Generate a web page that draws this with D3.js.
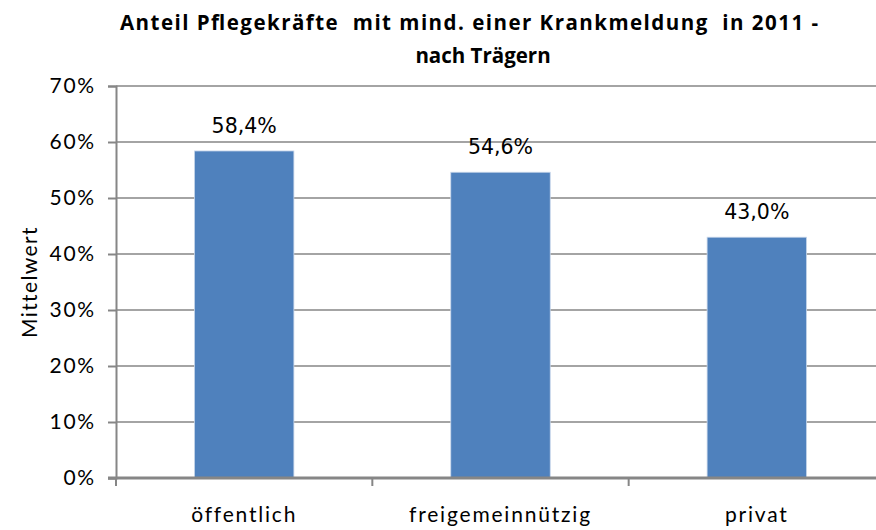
<!DOCTYPE html>
<html><head><meta charset="utf-8">
<script src="https://cdn.jsdelivr.net/npm/d3@7"></script>
<style>body{margin:0;background:#fff}svg{display:block}</style>
</head><body>
<svg id="c" width="876" height="530"></svg>
<script>
const categories = ["öffentlich", "freigemeinnützig", "privat"];
const values = [58.4, 54.6, 43.0];
const valueLabels = ["58,4%", "54,6%", "43,0%"];
const yTicks = [0, 10, 20, 30, 40, 50, 60, 70];
const titleLines = ["Anteil Pflegekräfte  mit mind. einer Krankmeldung  in 2011 -", "nach Trägern"];
const yAxisTitle = "Mittelwert";

(function () {
const svg = d3.select("#c");
const pLeft = 116, pRight = 885, pTop = 86, pBottom = 478;
const font = "Lato, 'Open Sans', sans-serif";

const x = d3.scaleBand().domain(categories).range([pLeft, pRight]).paddingInner(0.612).paddingOuter(0.306);
const xb = d3.scaleBand().domain(categories).range([pLeft, pRight]);
const y = d3.scaleLinear().domain([0, 70]).range([pBottom, pTop]);

svg.append("g").selectAll("line").data(yTicks.filter(d => d > 0)).join("line")
  .attr("x1", pLeft).attr("x2", pRight)
  .attr("y1", d => y(d)).attr("y2", d => y(d))
  .attr("stroke", "#868686").attr("stroke-width", 1.5);

svg.append("g").selectAll("rect").data(values).join("rect")
  .attr("x", (d, i) => x(categories[i]))
  .attr("width", x.bandwidth())
  .attr("y", d => y(d))
  .attr("height", d => y(0) - y(d))
  .attr("fill", "#4F81BD")
  .attr("stroke", "#c9d7ea").attr("stroke-width", 0.8);

svg.append("g").selectAll("text").data(values).join("text")
  .attr("x", (d, i) => x(categories[i]) + x.bandwidth() / 2)
  .attr("y", d => y(d) - 18)
  .attr("text-anchor", "middle")
  .attr("font-family", "'DejaVu Sans', sans-serif")
  .attr("font-size", 20.5)
  .attr("fill", "#000")
  .text((d, i) => valueLabels[i]);

const yAxis = d3.axisLeft(y).tickValues(yTicks).tickFormat(d => d + "%").tickSize(8).tickPadding(12);
const gy = svg.append("g").attr("transform", `translate(${pLeft},0)`).call(yAxis);
gy.select(".domain").attr("stroke", "#868686").attr("stroke-width", 2);
gy.selectAll(".tick line").attr("stroke", "#868686").attr("stroke-width", 2);
gy.selectAll("text").attr("font-family", font).attr("font-size", 21).attr("letter-spacing", 1.8).attr("fill", "#000");

const xAxis = d3.axisBottom(xb).tickSize(0).tickPadding(29);
const gx = svg.append("g").attr("transform", `translate(0,${pBottom})`).call(xAxis);
gx.select(".domain").remove();
svg.append("line").attr("x1", pLeft - 8).attr("x2", pRight).attr("y1", pBottom).attr("y2", pBottom)
  .attr("stroke", "#868686").attr("stroke-width", 3);
svg.append("g").selectAll("line").data([0, 1, 2, 3]).join("line")
  .attr("x1", i => pLeft + i * xb.step()).attr("x2", i => pLeft + i * xb.step())
  .attr("y1", pBottom).attr("y2", pBottom + 8)
  .attr("stroke", "#868686").attr("stroke-width", 2);
gx.selectAll("text").attr("font-family", font).attr("font-size", 21).attr("letter-spacing", 1.8).attr("fill", "#000").attr("dy", "0.71em");

svg.append("text")
  .attr("transform", `translate(37,282) rotate(-90)`)
  .attr("text-anchor", "middle")
  .attr("font-family", font).attr("font-size", 21).attr("letter-spacing", 1.4).attr("fill", "#000")
  .text(yAxisTitle);

svg.append("g").selectAll("text").data(titleLines).join("text")
  .attr("x", (d, i) => i === 0 ? 469 : 483)
  .attr("y", (d, i) => 30 + i * 33)
  .attr("text-anchor", "middle")
  .attr("font-family", "'Open Sans', Lato, sans-serif").attr("font-weight", "bold").attr("font-size", 20.5)
  .attr("textLength", (d, i) => i === 0 ? 698 : null)
  .attr("lengthAdjust", "spacing")
  .attr("fill", "#000")
  .style("white-space", "pre")
  .text(d => d);
})();
</script>
</body></html>
